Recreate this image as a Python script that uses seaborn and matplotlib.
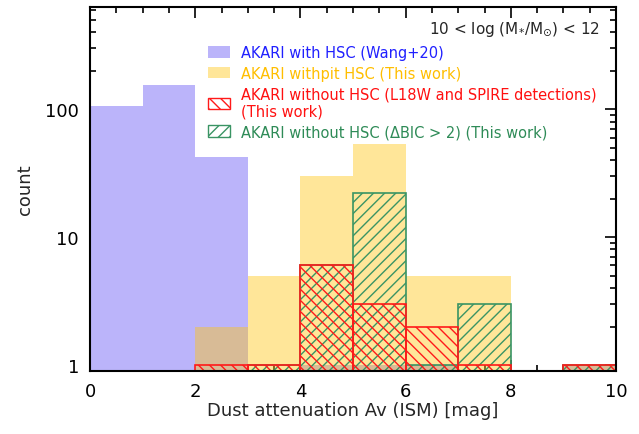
import numpy as np
import pandas as pd
import seaborn as sns
import matplotlib
matplotlib.use("Agg")
import matplotlib.pyplot as plt
from matplotlib.patches import Patch
from matplotlib.ticker import MultipleLocator, LogLocator, NullFormatter, FixedFormatter, FixedLocator

# ---- data ----
bin_edges = [0, 1, 2, 3, 4, 5, 6, 7, 8, 9, 10]
bin_centers = [0.5, 1.5, 2.5, 3.5, 4.5, 5.5, 6.5, 7.5, 8.5, 9.5]
with_hsc_wang = [105, 155, 42, 0, 1, 1, 1, 0, 0, 1]
withpit_hsc = [0, 0, 2, 5, 30, 53, 5, 5, 0, 1]
without_hsc_l18w = [0, 0, 1, 1, 6, 3, 2, 1, 0, 1]
without_hsc_bic = [0, 0, 0, 1, 6, 22, 1, 3, 0, 1]

labels = [
    "AKARI with HSC (Wang+20)",
    "AKARI withpit HSC (This work)",
    "AKARI without HSC (L18W and SPIRE detections)\n(This work)",
    "AKARI without HSC (\u0394BIC > 2) (This work)",
]
x_ticks = [0, 2, 4, 6, 8, 10]
y_ticks = [1, 10, 100]
y_tick_labels = ["1", "10", "100"]

# ---- styles ----
c_blue_fill = "#BBB4FA"
c_gold_fill = "#FFC617"
c_red = "#FF1A1A"
c_green = "#3A9464"
txt_colors = ["#2020FF", "#FFBE00", "#FF1010", "#2E8B57"]

sns.set_theme(style="ticks")
plt.rcParams["font.family"] = ["DejaVu Sans"]
plt.rcParams["hatch.linewidth"] = 1.0

fig = plt.figure(figsize=(6.39, 4.35), dpi=100)
ax = fig.add_axes([0.141, 0.145, 0.823, 0.837])

df = pd.DataFrame({"Av": bin_centers, "blue": with_hsc_wang, "gold": withpit_hsc,
                   "red": without_hsc_l18w, "green": without_hsc_bic})

sns.histplot(data=df, x="Av", weights="blue", bins=bin_edges, ax=ax,
             color=c_blue_fill, alpha=1.0, linewidth=0, edgecolor="none")
sns.histplot(data=df, x="Av", weights="gold", bins=bin_edges, ax=ax,
             color=c_gold_fill, alpha=0.44, linewidth=0, edgecolor="none")
sns.histplot(data=df, x="Av", weights="green", bins=bin_edges, ax=ax,
             fill=False, color=c_green, hatch="///", linewidth=1.2)
sns.histplot(data=df, x="Av", weights="red", bins=bin_edges, ax=ax,
             fill=False, color=c_red, hatch="\\\\\\", linewidth=1.2)

ax.set_yscale("log")
ax.set_xlim(0, 10)
ax.set_ylim(0.9, 630)

ax.xaxis.set_major_locator(FixedLocator(x_ticks))
ax.xaxis.set_minor_locator(MultipleLocator(0.5))
ax.yaxis.set_major_locator(FixedLocator(y_ticks))
ax.yaxis.set_major_formatter(FixedFormatter(y_tick_labels))
ax.yaxis.set_minor_locator(LogLocator(base=10, subs=np.arange(2, 10)))
ax.yaxis.set_minor_formatter(NullFormatter())

for s in ax.spines.values():
    s.set_linewidth(1.5)
    s.set_color("black")
ax.tick_params(which="both", direction="in", top=True, right=True, colors="black",
               labelsize=13, width=1.2)
ax.tick_params(which="major", length=8, pad=8)
ax.tick_params(which="minor", length=4)

ax.set_xlabel("Dust attenuation Av (ISM) [mag]", fontsize=13, labelpad=1)
ax.set_ylabel("count", fontsize=13, labelpad=8)

ax.text(0.970, 0.94, r"10 < log (M$_{*}$/M$_{\odot}$) < 12", transform=ax.transAxes,
        ha="right", va="center", fontsize=11)

handles = [
    Patch(facecolor=c_blue_fill, edgecolor="none"),
    Patch(facecolor="#FFE699", edgecolor="none"),
    Patch(facecolor="none", edgecolor=c_red, hatch="\\\\\\", linewidth=1.0),
    Patch(facecolor="none", edgecolor=c_green, hatch="///", linewidth=1.0),
]
leg = ax.legend(handles, labels, loc="upper left", bbox_to_anchor=(0.225, 0.895),
                frameon=False, fontsize=10.5, handlelength=1.5, handleheight=0.8,
                handletextpad=0.7, labelspacing=0.38, borderpad=0, borderaxespad=0)
for t, c in zip(leg.get_texts(), txt_colors):
    t.set_color(c)

fig.savefig("out.png", dpi=100)
